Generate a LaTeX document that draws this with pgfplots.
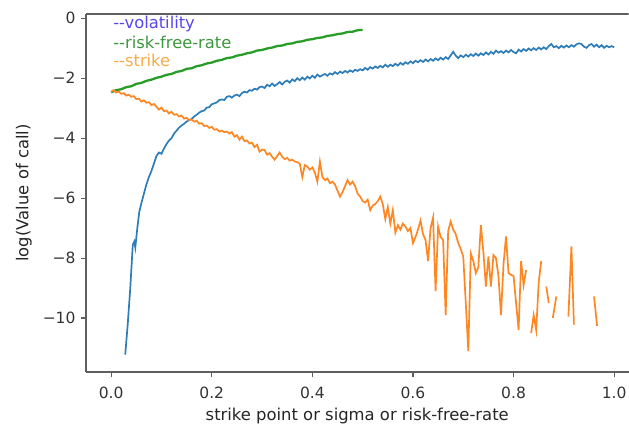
\documentclass[border=0pt]{standalone}
\usepackage{fontspec}
\setmainfont{DejaVu Sans}
\usepackage{pgfplots}
\pgfplotsset{compat=1.18}
\definecolor{lblue}{RGB}{45,125,185}
\definecolor{lorange}{RGB}{255,135,35}
\definecolor{lgreen}{RGB}{40,158,40}
\definecolor{tblue}{RGB}{85,70,238}
\definecolor{tgreen}{RGB}{60,150,60}
\definecolor{torange}{RGB}{248,172,70}
\definecolor{spine}{RGB}{95,95,95}
\begin{document}
\begin{tikzpicture}
\begin{axis}[
  scale only axis, width=542.5pt, height=358pt,
  xmin=-0.05, xmax=1.0285, ymin=-11.8, ymax=0.14,
  axis lines*=left,
  axis line style={spine, line width=1.3pt, -},
  tick align=outside, major tick length=5pt,
  tick style={spine, line width=1.1pt},
  xtick={0,0.2,0.4,0.6,0.8,1.0},
  xticklabels={0.0,0.2,0.4,0.6,0.8,1.0},
  ytick={-10,-8,-6,-4,-2,0},
  yticklabels={−10,−8,−6,−4,−2,0},
  /pgf/number format/assume math mode=true,
  tick label style={font=\fontsize{15.5}{18}\selectfont, text=black!80},
  xticklabel style={yshift=-6pt},
  yticklabel style={xshift=-2pt},
  label style={font=\fontsize{16.4}{19}\selectfont, text=black!85},
  xlabel={strike point or sigma or risk-free-rate},
  ylabel={log(Value of call)},
  xlabel style={yshift=-2.5pt},
  ylabel style={yshift=4pt},
  unbounded coords=jump,
  clip=true,
]
\coordinate (sw) at (rel axis cs:0,0);
\draw[spine, line width=1.3pt] (rel axis cs:0,1) -- (rel axis cs:1,1);
% volatility
\addplot[lblue, line width=1.7pt] coordinates {
(0.028,-11.22) (0.033,-10.2) (0.038,-9.0) (0.043,-7.56) (0.046,-7.45) (0.048,-7.65)
(0.052,-7.0) (0.056,-6.45) (0.062,-6.05) (0.066,-5.8) (0.070,-5.55) (0.075,-5.3)
(0.080,-5.1) (0.085,-4.85) (0.090,-4.6) (0.095,-4.48) (0.100,-4.52) (0.105,-4.35)
(0.110,-4.2) (0.115,-4.08) (0.120,-4.0) (0.125,-3.85) (0.130,-3.75) (0.135,-3.65)
(0.140,-3.58) (0.145,-3.52) (0.150,-3.45) (0.155,-3.40) (0.160,-3.36) (0.165,-3.28)
(0.170,-3.22) (0.175,-3.15) (0.180,-3.10) (0.185,-3.08) (0.190,-2.98) (0.195,-2.97)
(0.200,-2.87) (0.205,-2.84) (0.210,-2.81) (0.215,-2.73) (0.220,-2.71) (0.225,-2.73)
(0.230,-2.62) (0.235,-2.60) (0.240,-2.65) (0.245,-2.58) (0.250,-2.55) (0.255,-2.60)
(0.260,-2.50) (0.265,-2.45) (0.270,-2.48) (0.275,-2.40) (0.280,-2.42) (0.285,-2.35)
(0.290,-2.38) (0.295,-2.30) (0.300,-2.28) (0.305,-2.33) (0.310,-2.22) (0.315,-2.27)
(0.320,-2.18) (0.325,-2.26) (0.330,-2.20) (0.335,-2.13) (0.340,-2.21) (0.345,-2.12)
(0.350,-2.08) (0.355,-2.15) (0.360,-2.04) (0.365,-2.10) (0.370,-2.00) (0.375,-2.07)
(0.380,-1.98) (0.385,-2.05) (0.390,-1.95) (0.395,-2.01) (0.400,-1.92) (0.405,-1.99)
(0.410,-1.88) (0.415,-1.95) (0.420,-1.90) (0.425,-1.86) (0.430,-1.92) (0.435,-1.84)
(0.440,-1.88) (0.445,-1.80) (0.450,-1.86) (0.455,-1.78) (0.460,-1.83) (0.465,-1.76)
(0.470,-1.81) (0.475,-1.74) (0.480,-1.79) (0.485,-1.72) (0.490,-1.76) (0.495,-1.70)
(0.500,-1.74) (0.505,-1.66) (0.510,-1.72) (0.515,-1.63) (0.520,-1.68) (0.525,-1.61)
(0.530,-1.66) (0.535,-1.59) (0.540,-1.64) (0.545,-1.55) (0.550,-1.62) (0.555,-1.55)
(0.560,-1.60) (0.565,-1.52) (0.570,-1.58) (0.575,-1.49) (0.580,-1.55) (0.585,-1.47)
(0.590,-1.52) (0.595,-1.44) (0.600,-1.50) (0.605,-1.42) (0.610,-1.47) (0.615,-1.40)
(0.620,-1.46) (0.625,-1.38) (0.630,-1.44) (0.635,-1.36) (0.640,-1.42) (0.645,-1.34)
(0.650,-1.40) (0.655,-1.32) (0.660,-1.38) (0.665,-1.30) (0.670,-1.36) (0.675,-1.24)
(0.680,-1.12) (0.685,-1.25) (0.690,-1.33) (0.695,-1.24) (0.700,-1.30) (0.705,-1.22)
(0.710,-1.28) (0.715,-1.20) (0.720,-1.26) (0.725,-1.18) (0.730,-1.25) (0.735,-1.17)
(0.740,-1.23) (0.745,-1.14) (0.750,-1.21) (0.755,-1.12) (0.760,-1.19) (0.765,-1.08)
(0.770,-1.15) (0.775,-1.10) (0.780,-1.16) (0.785,-1.08) (0.790,-1.14) (0.795,-1.06)
(0.800,-1.13) (0.805,-1.17) (0.810,-1.05) (0.815,-1.11) (0.820,-1.03) (0.825,-1.09)
(0.830,-1.01) (0.835,-1.07) (0.840,-1.00) (0.845,-1.06) (0.850,-0.98) (0.855,-1.04)
(0.860,-0.97) (0.865,-1.03) (0.870,-0.93) (0.875,-0.86) (0.880,-0.97) (0.885,-0.93)
(0.890,-1.00) (0.895,-0.92) (0.900,-0.98) (0.905,-0.91) (0.910,-0.97) (0.915,-0.90)
(0.920,-0.95) (0.925,-0.87) (0.930,-0.84) (0.935,-0.86) (0.940,-0.95) (0.945,-0.99)
(0.950,-0.90) (0.955,-0.86) (0.960,-0.95) (0.965,-0.88) (0.970,-0.97) (0.975,-0.90)
(0.980,-0.99) (0.985,-0.92) (0.990,-0.97) (0.995,-0.93) (1.000,-0.97)
};
% risk-free-rate
\addplot[lgreen, line width=2.3pt] coordinates {
(0.00,-2.47) (0.01,-2.40) (0.02,-2.37) (0.03,-2.30) (0.04,-2.27) (0.05,-2.19)
(0.06,-2.16) (0.07,-2.09) (0.08,-2.05) (0.09,-1.99) (0.10,-1.95) (0.11,-1.89)
(0.12,-1.86) (0.13,-1.79) (0.14,-1.76) (0.15,-1.69) (0.16,-1.67) (0.17,-1.60)
(0.18,-1.57) (0.19,-1.51) (0.20,-1.48) (0.21,-1.42) (0.22,-1.39) (0.23,-1.33)
(0.24,-1.31) (0.25,-1.25) (0.26,-1.22) (0.27,-1.17) (0.28,-1.14) (0.29,-1.08)
(0.30,-1.06) (0.31,-1.01) (0.32,-0.98) (0.33,-0.93) (0.34,-0.91) (0.35,-0.86)
(0.36,-0.84) (0.37,-0.79) (0.38,-0.77) (0.39,-0.72) (0.40,-0.70) (0.41,-0.66)
(0.42,-0.64) (0.43,-0.59) (0.44,-0.57) (0.45,-0.53) (0.46,-0.51) (0.47,-0.46)
(0.48,-0.45) (0.49,-0.40) (0.50,-0.39)
};
% strike
\addplot[lorange, line width=1.7pt] coordinates {
(0.000,-2.45) (0.005,-2.40) (0.010,-2.48) (0.015,-2.45) (0.020,-2.52) (0.025,-2.50)
(0.030,-2.58) (0.035,-2.55) (0.040,-2.62) (0.045,-2.60) (0.050,-2.70) (0.055,-2.68)
(0.060,-2.78) (0.065,-2.74) (0.070,-2.82) (0.075,-2.80) (0.080,-2.90) (0.085,-2.86)
(0.090,-2.95) (0.095,-3.05) (0.100,-2.98) (0.105,-3.10) (0.110,-3.08) (0.115,-3.18)
(0.120,-3.12) (0.125,-3.22) (0.130,-3.20) (0.135,-3.28) (0.140,-3.25) (0.145,-3.35)
(0.150,-3.32) (0.155,-3.40) (0.160,-3.38) (0.165,-3.45) (0.170,-3.42) (0.175,-3.52)
(0.180,-3.50) (0.185,-3.60) (0.190,-3.58) (0.195,-3.66) (0.200,-3.62) (0.205,-3.72)
(0.210,-3.70) (0.215,-3.78) (0.220,-3.75) (0.225,-3.80) (0.230,-3.78) (0.235,-3.85)
(0.240,-3.80) (0.245,-3.95) (0.250,-3.90) (0.255,-4.05) (0.260,-3.95) (0.265,-4.10)
(0.270,-4.08) (0.275,-4.18) (0.280,-4.15) (0.285,-4.30) (0.290,-4.22) (0.295,-4.45)
(0.300,-4.38) (0.305,-4.40) (0.310,-4.55) (0.315,-4.50) (0.320,-4.62) (0.325,-4.72)
(0.330,-4.60) (0.335,-4.48) (0.340,-4.62) (0.345,-4.70) (0.350,-4.66) (0.355,-4.75)
(0.360,-4.72) (0.365,-4.78) (0.370,-4.80) (0.375,-4.85) (0.380,-5.30) (0.385,-4.90)
(0.390,-4.95) (0.395,-5.05) (0.400,-4.98) (0.405,-5.15) (0.410,-5.45) (0.415,-4.78)
(0.420,-5.30) (0.425,-5.40) (0.430,-5.35) (0.435,-5.50) (0.440,-5.45) (0.445,-5.55)
(0.450,-5.75) (0.455,-5.95) (0.460,-5.80) (0.465,-5.60) (0.470,-5.40) (0.475,-5.55)
(0.480,-5.45) (0.485,-5.60) (0.490,-5.85) (0.495,-5.95) (0.500,-6.10) (0.505,-6.15)
(0.510,-6.05) (0.515,-6.40) (0.520,-6.25) (0.525,-6.20) (0.530,-6.10) (0.535,-5.95)
(0.540,-6.20) (0.545,-6.70) (0.550,-6.30) (0.555,-6.85) (0.560,-6.40) (0.565,-7.15)
(0.570,-6.90) (0.575,-7.05) (0.580,-6.85) (0.585,-6.95) (0.590,-7.10) (0.595,-7.00)
(0.600,-7.50) (0.605,-7.30) (0.610,-7.05) (0.615,-6.75) (0.620,-7.20) (0.625,-7.40)
(0.630,-8.10) (0.635,-7.00) (0.640,-6.65) (0.645,-9.10) (0.650,-6.95) (0.655,-7.30)
(0.660,-7.40) (0.665,-9.90) (0.670,-7.10) (0.675,-6.78) (0.680,-7.05) (0.685,-7.20)
(0.690,-7.50) (0.695,-7.70) (0.700,-7.95) (0.705,-9.50) (0.710,-11.10) (0.715,-7.85)
(0.720,-8.10) (0.725,-8.50) (0.730,-8.30) (0.735,-6.90) (0.740,-7.80) (0.745,-8.95)
(0.750,-7.95) (0.755,-8.95) (0.760,-7.90) (0.765,-8.00) (0.770,-8.60) (0.775,-9.90)
(0.780,-8.20) (0.785,-7.28) (0.790,-8.50) (0.795,-8.56) (0.800,-8.60) (0.805,-9.50)
(0.810,-10.40) (0.815,-8.10) (0.820,-8.90) (0.825,-8.40) (0.830,nan)
(0.835,-10.50) (0.840,-9.90) (0.845,-10.40) (0.850,-8.80) (0.855,-8.10) (0.860,nan)
(0.865,-8.95) (0.870,-9.50) (0.875,nan)
(0.878,-10.00) (0.885,-9.28) (0.890,nan)
(0.909,-9.95) (0.915,-7.61) (0.920,-10.22) (0.925,nan)
(0.960,-9.28) (0.966,-10.26)
};
\node[anchor=base west, inner sep=0pt, text=tblue, font=\fontsize{16.3}{19}\selectfont] at (axis cs:0.004,-0.36) {-{}-volatility};
\node[anchor=base west, inner sep=0pt, text=tgreen, font=\fontsize{16.3}{19}\selectfont] at (axis cs:0.004,-1.0) {-{}-risk-free-rate};
\node[anchor=base west, inner sep=0pt, text=torange, font=\fontsize{16.3}{19}\selectfont] at (axis cs:0.004,-1.62) {-{}-strike};
\end{axis}
\pgfresetboundingbox
\path[use as bounding box] ([xshift=-86pt,yshift=-52pt]sw) rectangle ([xshift=543pt,yshift=372pt]sw);
\end{tikzpicture}
\end{document}
